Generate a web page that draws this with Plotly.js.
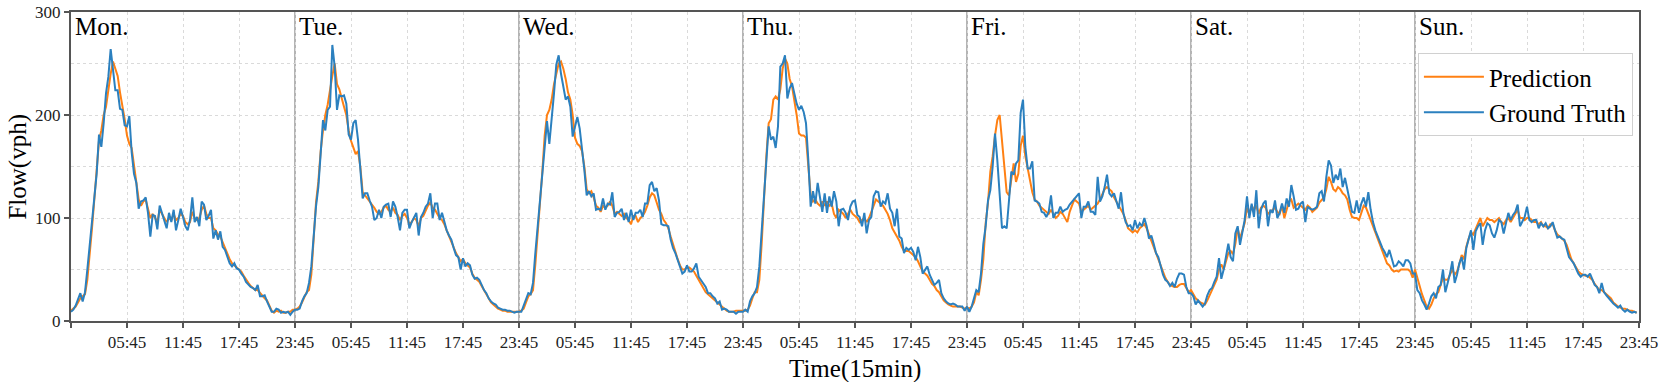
<!DOCTYPE html>
<html>
<head>
<meta charset="utf-8">
<script src="https://cdn.plot.ly/plotly-3.0.1.min.js"></script>
<style>
  html, body { margin: 0; padding: 0; background: #fff; }
  #myPlot { width: 1661px; height: 382px; }
</style>
</head>
<body>
<div id="myPlot"></div>
<script>
// one week of flow, 96 readings (15 min) per day
const days = ["Mon.", "Tue.", "Wed.", "Thu.", "Fri.", "Sat.", "Sun."];
const tickLabels = ["", "05:45", "11:45", "17:45", "23:45"];

const gtMon = [9, 11, 15, 22, 27, 19, 28, 50, 75, 101, 121, 143,
  181, 169, 192, 221, 237, 264, 244, 224, 224, 206, 205, 190,
  189, 199, 164, 143, 134, 109, 116, 117, 120, 105, 82, 103,
  102, 89, 112, 105, 96, 90, 105, 96, 108, 88, 98, 109,
  101, 92, 88, 98, 120, 96, 101, 92, 116, 113, 98, 102,
  108, 80, 88, 79, 87, 72, 69, 62, 56, 53, 56, 51,
  50, 46, 43, 38, 35, 33, 32, 30, 35, 24, 24, 25,
  19, 14, 9, 9, 12, 11, 8, 9, 8, 9, 6, 9];
const predMon = [10, 12, 14, 18, 22, 24, 26, 40, 62, 90, 118, 150,
  175, 185, 200, 208, 225, 240, 252, 246, 238, 222, 210, 196,
  180, 172, 168, 150, 135, 118, 112, 116, 118, 110, 100, 104,
  100, 96, 108, 104, 100, 96, 100, 98, 104, 98, 100, 104,
  102, 96, 94, 96, 106, 100, 98, 100, 108, 112, 104, 100,
  100, 90, 88, 84, 82, 76, 70, 66, 60, 56, 54, 52,
  50, 48, 44, 40, 37, 34, 32, 30, 30, 27, 24, 22,
  20, 15, 10, 8, 10, 9, 10, 8, 8, 9, 9, 11];

const gtTue = [11, 11, 12, 19, 24, 27, 37, 53, 85, 111, 130, 160,
  195, 185, 205, 208, 268, 247, 205, 219, 218, 219, 211, 181,
  176, 192, 195, 176, 147, 119, 124, 124, 117, 111, 98, 100,
  108, 100, 111, 113, 114, 101, 116, 111, 101, 88, 105, 108,
  108, 90, 96, 101, 105, 83, 101, 105, 111, 114, 124, 100,
  114, 114, 98, 105, 96, 88, 83, 79, 71, 64, 62, 50,
  61, 53, 56, 54, 45, 41, 42, 40, 35, 30, 27, 22,
  19, 17, 16, 13, 12, 11, 11, 10, 10, 9, 8, 9];
const predTue = [11, 12, 14, 18, 24, 28, 30, 45, 80, 115, 135, 165,
  185, 200, 210, 225, 238, 250, 230, 225, 215, 208, 200, 185,
  175, 168, 162, 165, 150, 125, 122, 120, 117, 114, 110, 106,
  104, 106, 110, 112, 108, 106, 110, 105, 103, 98, 102, 104,
  100, 94, 96, 100, 98, 92, 100, 102, 108, 112, 115, 110,
  108, 104, 100, 98, 94, 88, 82, 78, 72, 66, 62, 58,
  60, 56, 54, 52, 46, 42, 40, 38, 34, 30, 26, 22,
  18, 16, 14, 12, 11, 10, 10, 9, 9, 9, 9, 9];

const gtWed = [9, 9, 15, 22, 27, 26, 37, 66, 92, 111, 140, 169,
  194, 172, 201, 221, 249, 258, 240, 228, 215, 218, 208, 179,
  189, 198, 187, 169, 147, 122, 126, 121, 124, 108, 109, 108,
  119, 108, 114, 113, 125, 101, 105, 106, 109, 98, 105, 96,
  108, 98, 105, 105, 108, 101, 114, 114, 132, 135, 126, 129,
  117, 94, 93, 93, 92, 79, 71, 66, 59, 53, 46, 48,
  54, 48, 48, 51, 56, 43, 40, 37, 33, 27, 27, 24,
  22, 17, 19, 11, 12, 11, 9, 9, 9, 7, 9, 9];
const predWed = [9, 10, 12, 18, 24, 26, 30, 55, 85, 110, 145, 180,
  200, 205, 215, 230, 240, 250, 252, 245, 235, 222, 215, 200,
  178, 172, 170, 165, 150, 128, 124, 126, 120, 112, 110, 106,
  112, 110, 112, 116, 112, 104, 106, 104, 102, 104, 100, 98,
  94, 102, 102, 96, 100, 102, 106, 112, 120, 124, 122, 115,
  108, 104, 98, 95, 90, 82, 74, 66, 60, 54, 50, 50,
  52, 52, 50, 48, 44, 40, 36, 32, 28, 26, 24, 22,
  20, 18, 16, 14, 12, 10, 9, 9, 9, 10, 10, 10];

const gtThu = [9, 11, 9, 19, 24, 27, 33, 53, 88, 121, 147, 189,
  176, 179, 168, 189, 247, 250, 258, 216, 226, 231, 221, 211,
  205, 209, 203, 192, 156, 111, 126, 114, 134, 121, 106, 124,
  105, 121, 111, 126, 116, 92, 108, 109, 105, 98, 111, 116,
  117, 103, 101, 92, 105, 85, 98, 101, 121, 126, 125, 111,
  116, 114, 124, 109, 105, 92, 109, 82, 80, 66, 71, 69,
  71, 67, 59, 72, 62, 46, 49, 53, 45, 40, 35, 37,
  40, 27, 22, 19, 17, 16, 17, 16, 14, 14, 14, 10];
const predThu = [10, 10, 11, 15, 22, 28, 28, 40, 75, 120, 160, 192,
  196, 215, 218, 215, 225, 245, 255, 250, 235, 228, 215, 200,
  182, 180, 180, 178, 150, 122, 116, 118, 114, 112, 116, 112,
  116, 112, 114, 104, 100, 108, 106, 104, 100, 104, 108, 104,
  102, 100, 96, 98, 100, 96, 100, 106, 112, 118, 116, 114,
  112, 108, 104, 98, 90, 86, 82, 78, 72, 68, 68, 68,
  66, 64, 62, 58, 52, 48, 46, 44, 40, 36, 34, 30,
  28, 24, 20, 18, 16, 15, 14, 14, 14, 14, 13, 12];

const gtFri = [14, 9, 14, 22, 30, 28, 46, 75, 92, 117, 127, 150,
  182, 156, 124, 90, 92, 90, 117, 145, 142, 153, 156, 202,
  215, 169, 148, 148, 155, 117, 116, 114, 106, 105, 101, 106,
  122, 100, 105, 105, 111, 106, 108, 109, 113, 116, 119, 121,
  124, 100, 111, 111, 116, 106, 106, 103, 140, 116, 121, 130,
  142, 124, 121, 124, 116, 109, 125, 105, 96, 92, 93, 88,
  98, 90, 95, 92, 100, 92, 80, 83, 75, 66, 62, 54,
  45, 40, 38, 34, 37, 33, 41, 46, 46, 45, 33, 27];
const predFri = [13, 12, 14, 18, 28, 25, 40, 60, 95, 115, 145, 160,
  180, 195, 200, 175, 145, 125, 122, 140, 153, 135, 143, 170,
  180, 160, 148, 138, 125, 118, 116, 112, 110, 108, 106, 104,
  108, 104, 100, 102, 106, 104, 100, 96, 106, 112, 118, 116,
  114, 106, 108, 110, 112, 108, 110, 112, 114, 118, 124, 128,
  130, 128, 126, 120, 116, 112, 108, 104, 98, 90, 88, 86,
  88, 86, 90, 92, 94, 90, 84, 78, 72, 66, 60, 52,
  46, 42, 38, 35, 34, 33, 33, 35, 36, 36, 32, 28];

const gtSat = [27, 24, 16, 20, 17, 14, 17, 25, 30, 32, 38, 43,
  61, 41, 50, 62, 75, 62, 58, 85, 92, 74, 85, 98,
  121, 100, 114, 101, 127, 90, 108, 114, 117, 92, 108, 105,
  117, 100, 105, 114, 105, 119, 111, 132, 121, 108, 109, 114,
  116, 96, 111, 109, 108, 109, 111, 124, 126, 116, 140, 156,
  151, 134, 142, 137, 148, 130, 139, 126, 117, 106, 105, 117,
  105, 114, 120, 111, 125, 108, 96, 88, 82, 75, 71, 67,
  62, 69, 61, 53, 54, 58, 56, 53, 59, 59, 56, 46];
const predSat = [30, 26, 22, 20, 18, 17, 16, 20, 25, 30, 36, 40,
  50, 55, 50, 58, 66, 68, 65, 75, 90, 80, 88, 95,
  110, 104, 112, 108, 112, 104, 110, 112, 110, 104, 106, 108,
  110, 106, 104, 112, 100, 108, 116, 118, 110, 112, 114, 112,
  110, 108, 112, 110, 106, 108, 110, 115, 118, 120, 128, 140,
  135, 128, 126, 130, 128, 124, 122, 118, 108, 101, 100, 100,
  98, 104, 112, 110, 104, 98, 92, 84, 78, 72, 66, 60,
  56, 54, 50, 48, 49, 48, 50, 50, 50, 50, 48, 42];

const gtSun = [46, 30, 27, 20, 16, 11, 17, 24, 27, 22, 33, 35,
  50, 28, 37, 46, 58, 37, 45, 56, 62, 50, 71, 79,
  88, 69, 87, 92, 95, 74, 88, 95, 93, 85, 81, 88,
  98, 96, 85, 95, 105, 98, 103, 106, 113, 92, 96, 101,
  111, 98, 96, 98, 98, 90, 95, 92, 95, 90, 92, 96,
  88, 81, 82, 80, 79, 71, 62, 59, 56, 51, 46, 43,
  45, 45, 43, 46, 40, 35, 33, 27, 37, 28, 25, 22,
  20, 17, 15, 13, 15, 11, 9, 11, 9, 8, 9, 8];
const predSun = [50, 42, 32, 26, 20, 14, 12, 16, 22, 26, 28, 36,
  42, 40, 40, 45, 50, 45, 48, 55, 64, 60, 72, 80,
  86, 84, 90, 95, 100, 92, 96, 100, 98, 98, 96, 98,
  100, 96, 94, 98, 100, 96, 100, 104, 108, 100, 100, 98,
  100, 100, 98, 96, 96, 94, 96, 92, 92, 90, 94, 94,
  88, 84, 82, 80, 78, 74, 66, 60, 56, 52, 48, 46,
  45, 44, 44, 42, 40, 36, 33, 30, 30, 28, 26, 24,
  22, 18, 16, 14, 13, 12, 12, 11, 10, 10, 9, 8];

const groundTruth = [].concat(gtMon, gtTue, gtWed, gtThu, gtFri, gtSat, gtSun);
const prediction = [].concat(predMon, predTue, predWed, predThu, predFri, predSat, predSun);
const steps = groundTruth.map((v, i) => i);

const serif = '"Liberation Serif", "Times New Roman", Times, serif';

// tick every 6 hours, day boundary every 96 steps
const tickvals = [];
const ticktext = [];
for (let i = 0; i <= 672; i += 24) {
  tickvals.push(i);
  ticktext.push(tickLabels[i === 0 ? 0 : ((i / 24 - 1) % 4) + 1]);
}

const shapes = [];
const annotations = [];
days.forEach((d, k) => {
  if (k > 0) {
    shapes.push({
      type: "line", xref: "x", yref: "paper",
      x0: 96 * k, x1: 96 * k, y0: 0, y1: 1,
      line: {color: "#b4b4b4", width: 2}, layer: "below"
    });
  }
  annotations.push({
    text: d, xref: "x", yref: "y", x: 96 * k, y: 286,
    xanchor: "left", yanchor: "middle", xshift: 2, showarrow: false,
    font: {family: serif, size: 25, color: "#000"}
  });
});
annotations.push({
  text: "Flow(vph)", xref: "paper", yref: "paper", x: -0.0344, y: 0.5,
  textangle: -90, xanchor: "center", yanchor: "middle", showarrow: false,
  font: {family: serif, size: 25, color: "#000"}
});
annotations.push({
  text: "Time(15min)", xref: "paper", yref: "paper", x: 0.5, y: -0.154,
  xanchor: "center", yanchor: "middle", showarrow: false,
  font: {family: serif, size: 25, color: "#000"}
});

const data = [
  {x: steps, y: prediction, mode: "lines", name: "Prediction",
   line: {color: "#ff8013", width: 2}},
  {x: steps, y: groundTruth, mode: "lines", name: "Ground Truth",
   line: {color: "#2b80bf", width: 2}}
];

const layout = {
  width: 1661, height: 382,
  margin: {l: 71, r: 22, t: 12, b: 61},
  paper_bgcolor: "#fff", plot_bgcolor: "#fff",
  font: {family: serif, size: 17, color: "#222"},
  showlegend: true,
  legend: {
    x: 0.859, y: 0.867, xanchor: "left", yanchor: "top",
    bgcolor: "#fff", bordercolor: "#d0d0d0", borderwidth: 1,
    font: {family: serif, size: 25, color: "#000"},
    itemwidth: 60, tracegroupgap: 0
  },
  xaxis: {
    range: [0, 672], tickvals: tickvals, ticktext: ticktext,
    showline: true, linecolor: "#555", linewidth: 2, mirror: true,
    ticks: "outside", ticklen: 5, tickcolor: "#555", tickwidth: 1.5,
    showgrid: true, gridcolor: "#dadada", griddash: "dot", gridwidth: 1,
    zeroline: false, tickfont: {family: serif, size: 17, color: "#222"}
  },
  yaxis: {
    range: [0, 300], tickvals: [0, 100, 200, 300],
    showline: true, linecolor: "#555", linewidth: 2, mirror: true,
    ticks: "outside", ticklen: 5, tickcolor: "#555", tickwidth: 1.5,
    showgrid: true, gridcolor: "#dadada", griddash: "dot", gridwidth: 1,
    minor: {tickvals: [50, 150, 250], showgrid: true, gridcolor: "#dadada", griddash: "dot", ticks: ""},
    zeroline: false, tickfont: {family: serif, size: 17, color: "#222"}
  },
  shapes: shapes,
  annotations: annotations
};

Plotly.newPlot("myPlot", data, layout, {displayModeBar: false, staticPlot: true});
</script>
</body>
</html>
